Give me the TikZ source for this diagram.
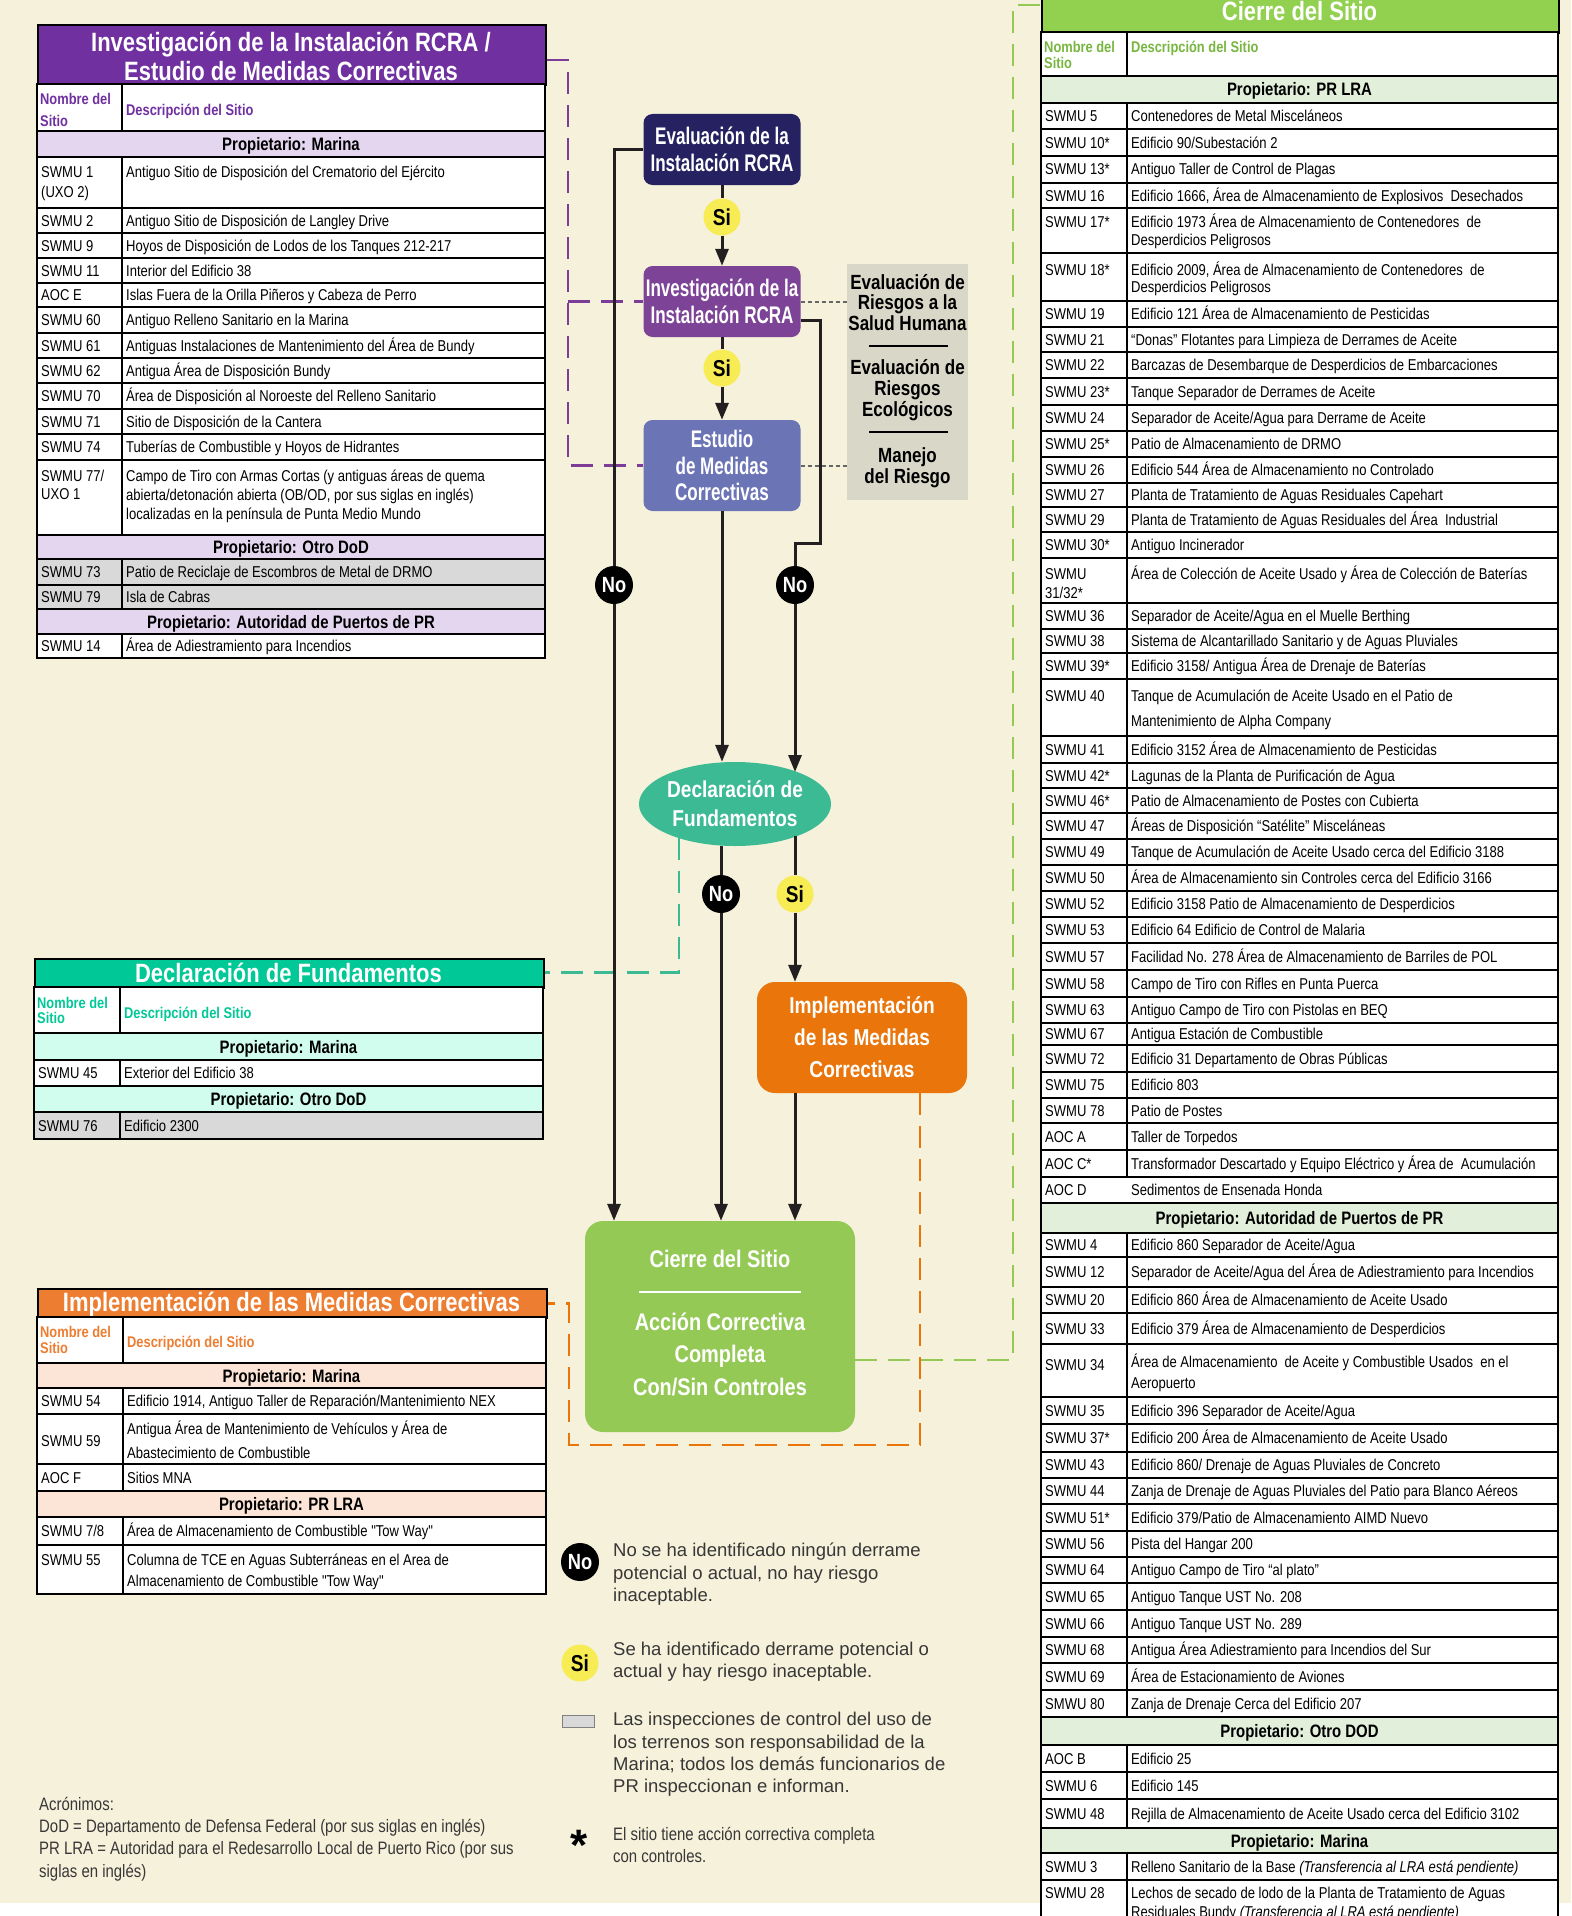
\documentclass[tikz,border=0pt]{standalone}
\usepackage{fontspec}
\setmainfont{Liberation Sans}
\newfontfamily\nar{Liberation Sans}[FakeStretch=0.83]
\newfontfamily\cnd{Liberation Sans}[FakeStretch=0.71]
\usetikzlibrary{arrows.meta,shapes.geometric}

\definecolor{bg}{RGB}{246,241,219}
\definecolor{tpurple}{RGB}{112,48,160}
\definecolor{lpurple}{RGB}{229,214,240}
\definecolor{tteal}{RGB}{0,200,150}
\definecolor{lteal}{RGB}{208,253,238}
\definecolor{torange}{RGB}{237,125,49}
\definecolor{lorange}{RGB}{252,228,214}
\definecolor{tgreen}{RGB}{146,208,80}
\definecolor{hgreen}{RGB}{120,182,64}
\definecolor{lgreen}{RGB}{226,239,218}
\definecolor{rowgrey}{RGB}{217,217,217}
\definecolor{navy}{RGB}{38,34,98}
\definecolor{fpurple}{RGB}{124,67,151}
\definecolor{fperi}{RGB}{107,116,181}
\definecolor{fteal}{RGB}{59,186,148}
\definecolor{forange}{RGB}{233,117,11}
\definecolor{fgreen}{RGB}{148,201,86}
\definecolor{fyellow}{RGB}{247,236,83}
\definecolor{panelgrey}{RGB}{217,215,200}
\definecolor{ink}{RGB}{35,31,32}
\definecolor{dpurple}{RGB}{125,60,152}
\definecolor{legtext}{RGB}{55,55,55}

\newcounter{nc}
\newcommand\tabL{0}\newcommand\tabD{0}\newcommand\tabR{0}
\newcommand\setcols[3]{\renewcommand\tabL{#1}\renewcommand\tabD{#2}\renewcommand\tabR{#3}}
\newcommand\tcell[4][body]{\stepcounter{nc}\node[#1] (tx\arabic{nc}) at ({#2},{#3}) {#4};}
\newcommand\rowbox[3][white]{%
  \draw[tline,fill=#1] (\tabL,#2) rectangle (\tabD,#3);
  \draw[tline,fill=#1] (\tabD,#2) rectangle (\tabR,#3);}
\newcommand\srow[5][white]{\rowbox[#1]{#2}{#3}\tcell{\tabL+4}{(#2+#3)/2}{#4}\tcell{\tabD+4}{(#2+#3)/2}{#5}}
\newcommand\prow[4]{\draw[tline,fill=#3] (\tabL,#1) rectangle (\tabR,#2);\tcell[prop]{(\tabL+\tabR)/2}{(#1+#2)/2}{#4}}

\tikzset{
  tline/.style={draw=black, line width=2.2pt},
  body/.style={font=\nar\fontsize{15.7}{18}\selectfont, inner sep=0pt, anchor=west, text height=11pt, text depth=0pt},
  hdr/.style={body, font=\nar\bfseries\fontsize{15.5}{18}\selectfont},
  prop/.style={font=\nar\bfseries\fontsize{18}{20}\selectfont, inner sep=0pt, text height=13pt, text depth=0pt},
  ttl/.style={font=\nar\bfseries\fontsize{26.5}{28}\selectfont, text=white, inner sep=0pt, text height=19pt, text depth=0pt},
  titlebox/.style={tline, inner sep=0pt, anchor=north west},
  fbox/.style={rounded corners=9pt, inner sep=0pt, align=center, text=white, font=\cnd\bfseries\fontsize{24}{26.5}\selectfont},
  fbox2/.style={rounded corners=18pt, inner sep=0pt, align=center, text=white, font=\nar\bfseries\fontsize{23}{32}\selectfont},
  ctext/.style={inner sep=0pt, align=center, text=white, font=\nar\bfseries\fontsize{24}{32.5}\selectfont},
  ptxt/.style={align=center, inner sep=0pt, font=\nar\bfseries\fontsize{20.5}{20.7}\selectfont},
  sinode/.style={circle, fill=fyellow, minimum size=37pt, inner sep=0pt, font=\nar\bfseries\fontsize{23}{23}\selectfont, text=black},
  nonode/.style={circle, fill=black, minimum size=38pt, inner sep=0pt, font=\nar\bfseries\fontsize{22}{22}\selectfont, text=white},
  flow/.style={draw=ink, line width=3pt},
  arr/.style={flow, -{Triangle[length=17pt,width=13pt]}},
  gdot/.style={draw=black!60, line width=2pt, dash pattern=on 4pt off 3pt},
  pdash/.style={draw=dpurple, line width=2.7pt, dash pattern=on 22pt off 11pt},
  tdash/.style={draw=fteal, line width=2.7pt, dash pattern=on 22pt off 11pt},
  odash/.style={draw=forange, line width=2.7pt, dash pattern=on 22pt off 11pt},
  gdash/.style={draw=fgreen, line width=2.7pt, dash pattern=on 22pt off 11pt},
  leg/.style={font=\fontsize{18.5}{22}\selectfont, text=legtext, inner sep=0pt, anchor=west, text height=13pt, text depth=0pt},
  lnar/.style={leg, font=\nar\fontsize{18}{22}\selectfont},
  acr/.style={leg, font=\nar\fontsize{18}{20}\selectfont},
}

\begin{document}
\begin{tikzpicture}[x=1pt,y=-1pt]
\useasboundingbox (0,0) rectangle (1571,1916);
\begin{scope}
\clip (0,0) rectangle (1571,1916);
\fill[bg] (0,0) rectangle (1571,1903);
\fill[white] (0,1903) rectangle (1571,1916);

% ================= Table 1 =================
\setcols{37}{122}{545}
\node[titlebox, fill=tpurple, minimum width=508pt, minimum height=60pt] (t1title) at (37,24) {};
\tcell[ttl]{291}{42}{Investigación de la Instalación RCRA /}
\tcell[ttl]{291}{71}{Estudio de Medidas Correctivas}
\rowbox{84}{131}
\tcell[hdr,text=tpurple]{\tabL+3}{99}{Nombre del}
\tcell[hdr,text=tpurple]{\tabL+3}{121}{Sitio}
\tcell[hdr,text=tpurple]{\tabD+4}{110}{Descripción del Sitio}
\prow{131}{157}{lpurple}{Propietario: Marina}
\rowbox{157}{208}
\tcell{\tabL+4}{172}{SWMU 1}
\tcell{\tabL+4}{192}{(UXO 2)}
\tcell{\tabD+4}{172}{Antiguo Sitio de Disposición del Crematorio del Ejército}
\srow{208}{233}{SWMU 2}{Antiguo Sitio de Disposición de Langley Drive}
\srow{233}{258}{SWMU 9}{Hoyos de Disposición de Lodos de los Tanques 212-217}
\srow{258}{283}{SWMU 11}{Interior del Edificio 38}
\srow{283}{307}{AOC E}{Islas Fuera de la Orilla Piñeros y Cabeza de Perro}
\srow{307}{333}{SWMU 60}{Antiguo Relleno Sanitario en la Marina}
\srow{333}{358}{SWMU 61}{Antiguas Instalaciones de Mantenimiento del Área de Bundy}
\srow{358}{383}{SWMU 62}{Antigua Área de Disposición Bundy}
\srow{383}{409}{SWMU 70}{Área de Disposición al Noroeste del Relleno Sanitario}
\srow{409}{434}{SWMU 71}{Sitio de Disposición de la Cantera}
\srow{434}{460}{SWMU 74}{Tuberías de Combustible y Hoyos de Hidrantes}
\rowbox{460}{535}
\tcell{\tabL+4}{476}{SWMU 77/}
\tcell{\tabL+4}{494}{UXO 1}
\tcell{\tabD+4}{476}{Campo de Tiro con Armas Cortas (y antiguas áreas de quema}
\tcell{\tabD+4}{495}{abierta/detonación abierta (OB/OD, por sus siglas en inglés)}
\tcell{\tabD+4}{514}{localizadas en la península de Punta Medio Mundo}
\prow{535}{559}{lpurple}{Propietario: Otro DoD}
\srow[rowgrey]{559}{585}{SWMU 73}{Patio de Reciclaje de Escombros de Metal de DRMO}
\srow[rowgrey]{585}{609}{SWMU 79}{Isla de Cabras}
\prow{609}{634}{lpurple}{Propietario: Autoridad de Puertos de PR}
\srow{634}{658}{SWMU 14}{Área de Adiestramiento para Incendios}

% ================= Table 2 =================
\setcols{34}{120}{543}
\node[titlebox, fill=tteal, minimum width=509pt, minimum height=29pt] (t2title) at (34,958) {};
\tcell[ttl]{288.5}{973}{Declaración de Fundamentos}
\rowbox{987}{1033}
\tcell[hdr,text=tteal]{\tabL+3}{1003}{Nombre del}
\tcell[hdr,text=tteal]{\tabL+3}{1018}{Sitio}
\tcell[hdr,text=tteal]{\tabD+4}{1013}{Descripción del Sitio}
\prow{1033}{1060}{lteal}{Propietario: Marina}
\srow{1060}{1086}{SWMU 45}{Exterior del Edificio 38}
\prow{1086}{1112}{lteal}{Propietario: Otro DoD}
\srow[rowgrey]{1112}{1139}{SWMU 76}{Edificio 2300}

% ================= Table 3 =================
\setcols{37}{123}{546}
\node[titlebox, fill=torange, minimum width=509pt, minimum height=29pt] (t3title) at (37,1288) {};
\tcell[ttl]{291.5}{1302}{Implementación de las Medidas Correctivas}
\rowbox{1317}{1363}
\tcell[hdr,text=torange]{\tabL+3}{1332}{Nombre del}
\tcell[hdr,text=torange]{\tabL+3}{1348}{Sitio}
\tcell[hdr,text=torange]{\tabD+4}{1342}{Descripción del Sitio}
\prow{1363}{1388}{lorange}{Propietario: Marina}
\srow{1388}{1414}{SWMU 54}{Edificio 1914, Antiguo Taller de Reparación/Mantenimiento NEX}
\rowbox{1414}{1464}
\tcell{\tabL+4}{1441}{SWMU 59}
\tcell{\tabD+4}{1429}{Antigua Área de Mantenimiento de Vehículos y Área de}
\tcell{\tabD+4}{1453}{Abastecimiento de Combustible}
\srow{1464}{1491}{AOC F}{Sitios MNA}
\prow{1491}{1517}{lorange}{Propietario: PR LRA}
\srow{1517}{1545}{SWMU 7/8}{Área de Almacenamiento de Combustible "Tow Way"}
\rowbox{1545}{1594}
\tcell{\tabL+4}{1560}{SWMU 55}
\tcell{\tabD+4}{1560}{Columna de TCE en Aguas Subterráneas en el Area de}
\tcell{\tabD+4}{1581}{Almacenamiento de Combustible "Tow Way"}

% ================= Right table =================
\setcols{1041}{1127}{1558}
\node[titlebox, fill=tgreen, minimum width=517pt, minimum height=42pt] (t4title) at (1041,-10) {};
\tcell[ttl]{1299.5}{11}{Cierre del Sitio}
\rowbox{32}{76}
\tcell[hdr,text=hgreen]{\tabL+3}{47}{Nombre del}
\tcell[hdr,text=hgreen]{\tabL+3}{63}{Sitio}
\tcell[hdr,text=hgreen]{\tabD+4}{47}{Descripción del Sitio}
\prow{76}{103}{lgreen}{Propietario: PR LRA}
\srow{103}{129}{SWMU 5}{Contenedores de Metal Misceláneos}
\srow{129}{156}{SWMU 10*}{Edificio 90/Subestación 2}
\srow{156}{183}{SWMU 13*}{Antiguo Taller de Control de Plagas}
\srow{183}{208}{SWMU 16}{Edificio 1666, Área de Almacenamiento de Explosivos\ \ Desechados}
\rowbox{208}{253}
\tcell{\tabL+4}{222}{SWMU 17*}
\tcell{\tabD+4}{222}{Edificio 1973 Área de Almacenamiento de Contenedores\ \ de}
\tcell{\tabD+4}{240}{Desperdicios Peligrosos}
\rowbox{253}{301}
\tcell{\tabL+4}{270}{SWMU 18*}
\tcell{\tabD+4}{270}{Edificio 2009, Área de Almacenamiento de Contenedores\ \ de}
\tcell{\tabD+4}{287}{Desperdicios Peligrosos}
\srow{301}{327}{SWMU 19}{Edificio 121 Área de Almacenamiento de Pesticidas}
\srow{327}{352}{SWMU 21}{“Donas” Flotantes para Limpieza de Derrames de Aceite}
\srow{352}{378}{SWMU 22}{Barcazas de Desembarque de Desperdicios de Embarcaciones}
\srow{378}{405}{SWMU 23*}{Tanque Separador de Derrames de Aceite}
\srow{405}{431}{SWMU 24}{Separador de Aceite/Agua para Derrame de Aceite}
\srow{431}{457}{SWMU 25*}{Patio de Almacenamiento de DRMO}
\srow{457}{483}{SWMU 26}{Edificio 544 Área de Almacenamiento no Controlado}
\srow{483}{507}{SWMU 27}{Planta de Tratamiento de Aguas Residuales Capehart}
\srow{507}{532}{SWMU 29}{Planta de Tratamiento de Aguas Residuales del Área\ \ Industrial}
\srow{532}{558}{SWMU 30*}{Antiguo Incinerador}
\rowbox{558}{603}
\tcell{\tabL+4}{574}{SWMU}
\tcell{\tabL+4}{593}{31/32*}
\tcell{\tabD+4}{574}{Área de Colección de Aceite Usado y Área de Colección de Baterías}
\srow{603}{629}{SWMU 36}{Separador de Aceite/Agua en el Muelle Berthing}
\srow{629}{653}{SWMU 38}{Sistema de Alcantarillado Sanitario y de Aguas Pluviales}
\srow{653}{679}{SWMU 39*}{Edificio 3158/ Antigua Área de Drenaje de Baterías}
\rowbox{679}{736}
\tcell{\tabL+4}{696}{SWMU 40}
\tcell{\tabD+4}{696}{Tanque de Acumulación de Aceite Usado en el Patio de}
\tcell{\tabD+4}{721}{Mantenimiento de Alpha Company}
\srow{736}{763}{SWMU 41}{Edificio 3152 Área de Almacenamiento de Pesticidas}
\srow{763}{788}{SWMU 42*}{Lagunas de la Planta de Purificación de Agua}
\srow{788}{813}{SWMU 46*}{Patio de Almacenamiento de Postes con Cubierta}
\srow{813}{839}{SWMU 47}{Áreas de Disposición “Satélite” Misceláneas}
\srow{839}{865}{SWMU 49}{Tanque de Acumulación de Aceite Usado cerca del Edificio 3188}
\srow{865}{891}{SWMU 50}{Área de Almacenamiento sin Controles cerca del Edificio 3166}
\srow{891}{917}{SWMU 52}{Edificio 3158 Patio de Almacenamiento de Desperdicios}
\srow{917}{943}{SWMU 53}{Edificio 64 Edificio de Control de Malaria}
\srow{943}{970}{SWMU 57}{Facilidad No. 278 Área de Almacenamiento de Barriles de POL}
\srow{970}{997}{SWMU 58}{Campo de Tiro con Rifles en Punta Puerca}
\srow{997}{1023}{SWMU 63}{Antiguo Campo de Tiro con Pistolas en BEQ}
\srow{1023}{1045}{SWMU 67}{Antigua Estación de Combustible}
\srow{1045}{1072}{SWMU 72}{Edificio 31 Departamento de Obras Públicas}
\srow{1072}{1098}{SWMU 75}{Edificio 803}
\srow{1098}{1123}{SWMU 78}{Patio de Postes}
\srow{1123}{1150}{AOC A}{Taller de Torpedos}
\srow{1150}{1177}{AOC C*}{Transformador Descartado y Equipo Eléctrico y Área de\ \ Acumulación}
\draw[tline,fill=white] (\tabL,1177) rectangle (\tabR,1203);
\tcell{\tabL+4}{1190}{AOC D}
\tcell{\tabD+4}{1190}{Sedimentos de Ensenada Honda}
\prow{1203}{1233}{lgreen}{Propietario: Autoridad de Puertos de PR}
\srow{1233}{1257}{SWMU 4}{Edificio 860 Separador de Aceite/Agua}
\srow{1257}{1287}{SWMU 12}{Separador de Aceite/Agua del Área de Adiestramiento para Incendios}
\srow{1287}{1313}{SWMU 20}{Edificio 860 Área de Almacenamiento de Aceite Usado}
\srow{1313}{1344}{SWMU 33}{Edificio 379 Área de Almacenamiento de Desperdicios}
\rowbox{1344}{1397}
\tcell{\tabL+4}{1365}{SWMU 34}
\tcell{\tabD+4}{1362}{Área de Almacenamiento\ \ de Aceite y Combustible Usados\ \ en el}
\tcell{\tabD+4}{1383}{Aeropuerto}
\srow{1397}{1424}{SWMU 35}{Edificio 396 Separador de Aceite/Agua}
\srow{1424}{1452}{SWMU 37*}{Edificio 200 Área de Almacenamiento de Aceite Usado}
\srow{1452}{1478}{SWMU 43}{Edificio 860/ Drenaje de Aguas Pluviales de Concreto}
\srow{1478}{1504}{SWMU 44}{Zanja de Drenaje de Aguas Pluviales del Patio para Blanco Aéreos}
\srow{1504}{1531}{SWMU 51*}{Edificio 379/Patio de Almacenamiento AIMD Nuevo}
\srow{1531}{1557}{SWMU 56}{Pista del Hangar 200}
\srow{1557}{1583}{SWMU 64}{Antiguo Campo de Tiro “al plato”}
\srow{1583}{1610}{SWMU 65}{Antiguo Tanque UST No. 208}
\srow{1610}{1637}{SWMU 66}{Antiguo Tanque UST No. 289}
\srow{1637}{1663}{SWMU 68}{Antigua Área Adiestramiento para Incendios del Sur}
\srow{1663}{1690}{SWMU 69}{Área de Estacionamiento de Aviones}
\srow{1690}{1717}{SMWU 80}{Zanja de Drenaje Cerca del Edificio 207}
\prow{1717}{1745}{lgreen}{Propietario: Otro DOD}
\srow{1745}{1772}{AOC B}{Edificio 25}
\srow{1772}{1799}{SWMU 6}{Edificio 145}
\srow{1799}{1828}{SWMU 48}{Rejilla de Almacenamiento de Aceite Usado cerca del Edificio 3102}
\prow{1828}{1853}{lgreen}{Propietario: Marina}
\srow{1853}{1880}{SWMU 3}{Relleno Sanitario de la Base \textit{(Transferencia al LRA está pendiente)}}
\rowbox{1880}{1930}
\tcell{\tabL+4}{1893}{SWMU 28}
\tcell{\tabD+4}{1893}{Lechos de secado de lodo de la Planta de Tratamiento de Aguas}
\tcell{\tabD+4}{1912}{Residuales Bundy \textit{(Transferencia al LRA está pendiente)}}

% ================= Flowchart nodes =================
\node[fbox, fill=navy, minimum width=157pt, minimum height=71pt] (eval) at (722,149.5) {Evaluación de la\\Instalación RCRA};
\node[fbox, fill=fpurple, minimum width=157pt, minimum height=71pt] (inv) at (722,301.5) {Investigación de la\\Instalación RCRA};
\node[fbox, fill=fperi, minimum width=157pt, minimum height=91pt] (est) at (722,465.5) {Estudio\\de Medidas\\Correctivas};
\node[sinode] (si1) at (722,217) {Si};
\node[sinode] (si2) at (722,368) {Si};

\node[fill=panelgrey, minimum width=121pt, minimum height=236pt, inner sep=0pt] (panel) at (907.5,382) {};
\node[ptxt] (p1) at (907.5,302.5) {Evaluación de\\Riesgos a la\\Salud Humana};
\draw[line width=2.7pt] (869,346) -- (948,346);
\node[ptxt] (p2) at (907.5,390) {Evaluación de\\Riesgos\\Ecológicos};
\draw[line width=2.7pt] (869,432) -- (948,432);
\node[ptxt] (p3) at (907.5,467.5) {Manejo\\del Riesgo};

\node[ellipse, fill=fteal, minimum width=184pt, minimum height=84pt, inner sep=0pt, align=center, text=white, font=\nar\bfseries\fontsize{23}{29}\selectfont] (decl) at (735,804) {Declaración de\\Fundamentos};
\node[fbox2, fill=forange, minimum width=210pt, minimum height=111pt] (impl) at (862,1037.5) {Implementación\\de las Medidas\\Correctivas};
\node[fill=fgreen, rounded corners=18pt, minimum width=270pt, minimum height=211pt, inner sep=0pt] (cierre) at (720,1326.5) {};
\node[ctext] (c1) at (720,1259) {Cierre del Sitio};
\draw[white, line width=2.5pt] (639,1292) -- (801,1292);
\node[ctext] (c2) at (720,1354) {Acción Correctiva\\Completa\\Con/Sin Controles};

\node[nonode] (no1) at (614,585) {No};
\node[nonode] (no2) at (795,585) {No};
\node[nonode] (no3) at (721,894) {No};
\node[sinode] (si3) at (795,894) {Si};

% ================= dashed connectors =================
\coordinate (pA) at (568,60);
\coordinate (pB) at (568,465.5);
\draw[pdash] (t1title.east |- pA) -- (pA) -- (pB) -- (est.west);
\draw[pdash] (pA |- inv.west) -- (inv.west);
\coordinate (tA) at (679,838);
\coordinate (tB) at (679,972.5);
\draw[tdash] (tA) -- (tB) -- (tB -| t2title.east);
\coordinate (oA) at (920,1445);
\coordinate (oB) at (569,1445);
\draw[odash] (oA |- impl.south) -- (oA) -- (oB) -- (oB |- t3title.east) -- (t3title.east);
\coordinate (gA) at (1013,1360);
\coordinate (gB) at (1013,5);
\draw[gdash] (cierre.east |- gA) -- (gA) -- (gB) -- (gB -| t4title.west);
\draw[gdot] (inv.east) -- (inv.east -| panel.west);
\draw[gdot] (est.east) -- (est.east -| panel.west);

% ================= solid connectors =================
\draw[flow] (eval) -- (si1);
\draw[arr] (si1) -- (inv);
\draw[flow] (inv) -- (si2);
\draw[arr] (si2) -- (est);
\draw[arr] (est) -- (est |- decl.north);
\draw[flow] (eval.west) -| (no1);
\draw[arr] (no1) -- (no1 |- cierre.north);
\coordinate (rj) at (820,543);
\draw[flow] ([yshift=-18.5pt]inv.east) -| (rj) -| (no2);
\coordinate (dtr) at (795,772);
\draw[arr] (no2) -- (dtr);
\coordinate (dbr) at (795,836);
\draw[flow] (dbr) -- (si3);
\draw[arr] (si3) -- (si3 |- impl.north);
\draw[arr] (si3 |- impl.south) -- (si3 |- cierre.north);
\draw[flow] (no3 |- decl.south) -- (no3);
\draw[arr] (no3) -- (no3 |- cierre.north);

% ================= Legend =================
\node[nonode] (lno) at (580,1562) {No};
\tcell[leg]{613}{1550}{No se ha identificado ningún derrame}
\tcell[leg]{613}{1573}{potencial o actual, no hay riesgo}
\tcell[leg]{613}{1595}{inaceptable.}
\node[sinode] (lsi) at (580,1663) {Si};
\tcell[leg]{613}{1649}{Se ha identificado derrame potencial o}
\tcell[leg]{613}{1671}{actual y hay riesgo inaceptable.}
\node[draw=black!50, line width=1pt, fill=rowgrey, minimum width=32pt, minimum height=12pt, inner sep=0pt] (lgr) at (578,1721) {};
\tcell[leg]{613}{1719}{Las inspecciones de control del uso de}
\tcell[leg]{613}{1742}{los terrenos son responsabilidad de la}
\tcell[leg]{613}{1764}{Marina; todos los demás funcionarios de}
\tcell[leg]{613}{1786}{PR inspeccionan e informan.}
\node[font=\bfseries\fontsize{44}{44}\selectfont, inner sep=0pt] (last) at (579,1845) {*};
\tcell[lnar]{613}{1834}{El sitio tiene acción correctiva completa}
\tcell[lnar]{613}{1856}{con controles.}
\tcell[acr]{39}{1804}{Acrónimos:}
\tcell[acr]{39}{1826}{DoD = Departamento de Defensa Federal (por sus siglas en inglés)}
\tcell[acr]{39}{1848}{PR LRA = Autoridad para el Redesarrollo Local de Puerto Rico (por sus}
\tcell[acr]{39}{1871}{siglas en inglés)}
\end{scope}
\end{tikzpicture}
\end{document}
